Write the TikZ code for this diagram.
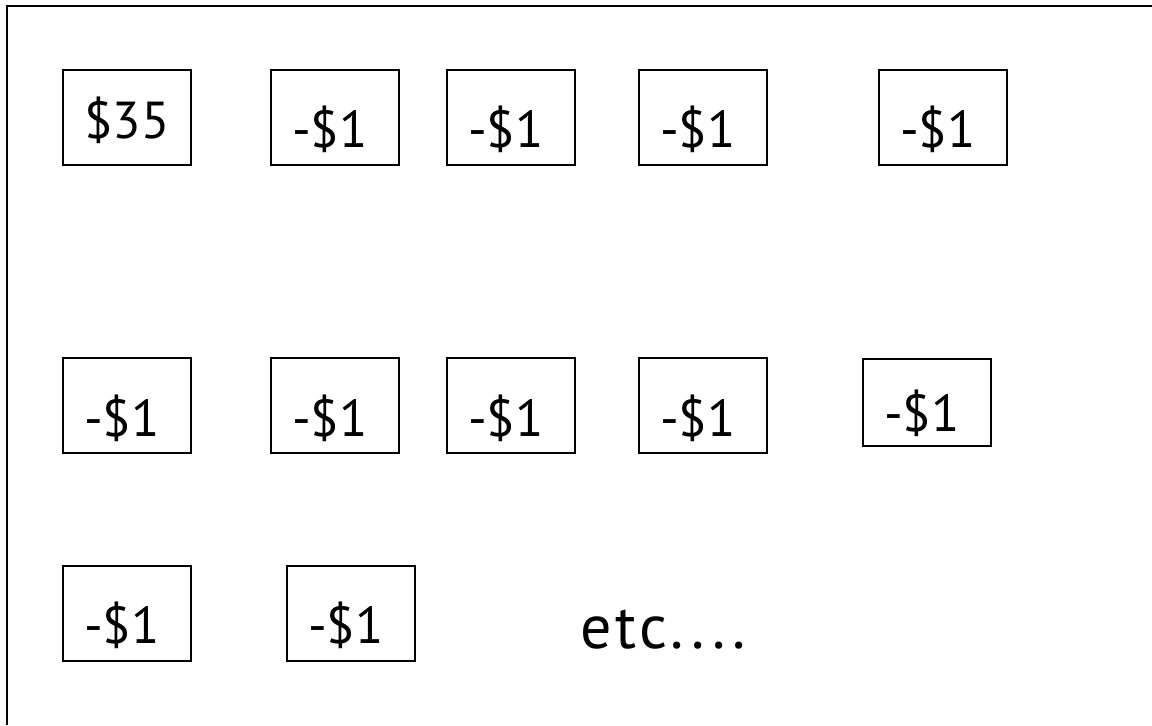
\documentclass[tikz,border=0pt]{standalone}
\usepackage{fontspec}
\setmainfont{PT Sans}
\usepackage{tikz}

\begin{document}
\begin{tikzpicture}[
  x=0.5pt,y=-0.5pt,
  cash/.style={draw,line width=1pt,rectangle,inner xsep=10.5pt,inner ysep=0pt,
    text width=43pt,align=left,text height=39pt,text depth=8.5pt,
    font=\fontsize{26}{30}\selectfont},
  start/.style={cash,align=center,text height=34.5pt,text depth=13pt},
  short/.style={text height=36pt,text depth=7.5pt},
  frame line/.style={line width=1pt}
]

\useasboundingbox (0,0) rectangle (1152,725);

\def\yone{117}
\def\ytwo{405.5}
\def\ythree{613}

\draw[frame line] (7,725) -- (7,6) -- (1152,6);

\node[start] (stake) at (127,\yone) {\$35};
\node[cash] (b1) at (335,\yone) {-\$1};
\node[cash] (b2) at (511,\yone) {-\$1};
\node[cash] (b3) at (703,\yone) {-\$1};
\node[cash] (b4) at (943,\yone) {-\$1};

\node[cash] (b5) at (127,\ytwo) {-\$1};
\node[cash] (b6) at (335,\ytwo) {-\$1};
\node[cash] (b7) at (511,\ytwo) {-\$1};
\node[cash] (b8) at (703,\ytwo) {-\$1};
\node[cash,short] (b9) at (927,402.5) {-\$1};

\node[cash] (b10) at (127,\ythree) {-\$1};
\node[cash] (b11) at (351,\ythree) {-\$1};

\node[anchor=base west,inner sep=0pt,font=\fontsize{31}{36}\selectfont\addfontfeatures{LetterSpace=5.6}] (etc) at (580,648) {etc....};

\end{tikzpicture}
\end{document}
